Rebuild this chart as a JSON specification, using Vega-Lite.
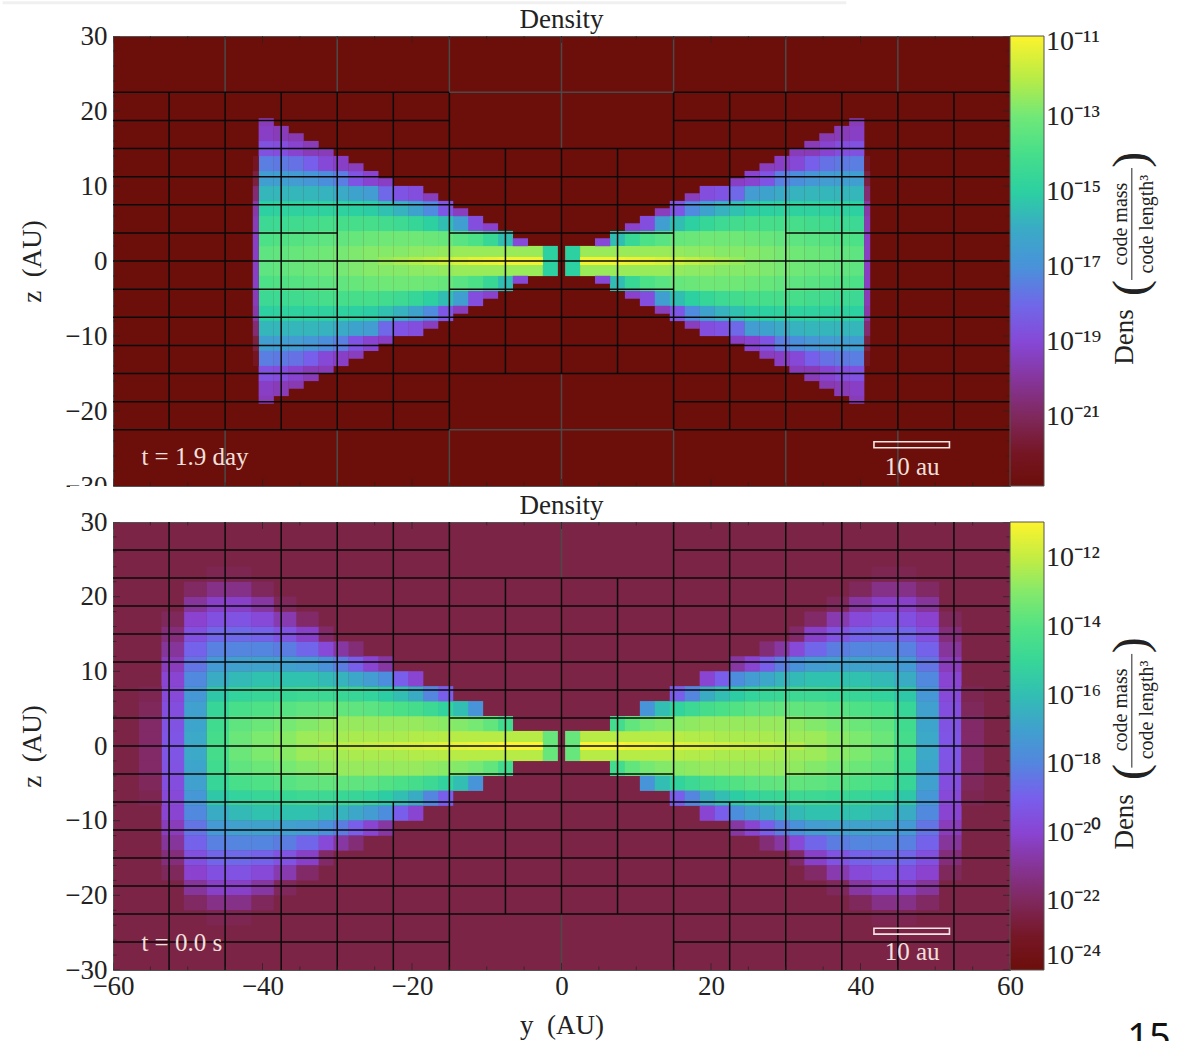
{"$schema":"https://vega.github.io/schema/vega-lite/v6.json","padding":0,"background":"white","bounds":"flush","spacing":36,
"config":{"font":"Liberation Serif","axis":{"grid":false,"ticks":false,"domain":false,"labelFontSize":27,"titleFontSize":27,"titleFontWeight":"normal","labelColor":"#222","titleColor":"#222","labelOverlap":false,"labelBound":false,"labelFlush":false},"legend":{"padding":0,"labelOffset":8,"gradientStrokeColor":"#555","gradientStrokeWidth":1,"labelFontSize":28,"labelColor":"#222"}},
"datasets":{
"xt":[{"v":-60,"m":1},{"v":-55,"m":0},{"v":-50,"m":0},{"v":-45,"m":0},{"v":-40,"m":1},{"v":-35,"m":0},{"v":-30,"m":0},{"v":-25,"m":0},{"v":-20,"m":1},{"v":-15,"m":0},{"v":-10,"m":0},{"v":-5,"m":0},{"v":0,"m":1},{"v":5,"m":0},{"v":10,"m":0},{"v":15,"m":0},{"v":20,"m":1},{"v":25,"m":0},{"v":30,"m":0},{"v":35,"m":0},{"v":40,"m":1},{"v":45,"m":0},{"v":50,"m":0},{"v":55,"m":0},{"v":60,"m":1}],
"zt":[{"v":-30,"m":1},{"v":-28,"m":0},{"v":-26,"m":0},{"v":-24,"m":0},{"v":-22,"m":0},{"v":-20,"m":1},{"v":-18,"m":0},{"v":-16,"m":0},{"v":-14,"m":0},{"v":-12,"m":0},{"v":-10,"m":1},{"v":-8,"m":0},{"v":-6,"m":0},{"v":-4,"m":0},{"v":-2,"m":0},{"v":0,"m":1},{"v":2,"m":0},{"v":4,"m":0},{"v":6,"m":0},{"v":8,"m":0},{"v":10,"m":1},{"v":12,"m":0},{"v":14,"m":0},{"v":16,"m":0},{"v":18,"m":0},{"v":20,"m":1},{"v":22,"m":0},{"v":24,"m":0},{"v":26,"m":0},{"v":28,"m":0},{"v":30,"m":1}],
"gt":[{"a":-52.5,"b":-52.5,"c":-22.5,"e":22.5,"k":"b"},{"a":52.5,"b":52.5,"c":-22.5,"e":22.5,"k":"b"},{"a":-37.5,"b":-37.5,"c":-22.5,"e":22.5,"k":"b"},{"a":37.5,"b":37.5,"c":-22.5,"e":22.5,"k":"b"},
{"a":-45,"b":-45,"c":-22.5,"e":22.5,"k":"b"},{"a":45,"b":45,"c":-22.5,"e":22.5,"k":"b"},{"a":-30,"b":-30,"c":-22.5,"e":22.5,"k":"b"},{"a":30,"b":30,"c":-22.5,"e":22.5,"k":"b"},{"a":-15,"b":-15,"c":-22.5,"e":22.5,"k":"b"},{"a":15,"b":15,"c":-22.5,"e":22.5,"k":"b"},
{"a":-45,"b":-45,"c":22.5,"e":30,"k":"g"},{"a":45,"b":45,"c":22.5,"e":30,"k":"g"},{"a":-30,"b":-30,"c":22.5,"e":30,"k":"g"},{"a":30,"b":30,"c":22.5,"e":30,"k":"g"},{"a":-15,"b":-15,"c":22.5,"e":30,"k":"g"},{"a":15,"b":15,"c":22.5,"e":30,"k":"g"},
{"a":-45,"b":-45,"c":-30,"e":-22.5,"k":"g"},{"a":45,"b":45,"c":-30,"e":-22.5,"k":"g"},{"a":-30,"b":-30,"c":-30,"e":-22.5,"k":"g"},{"a":30,"b":30,"c":-30,"e":-22.5,"k":"g"},{"a":-15,"b":-15,"c":-30,"e":-22.5,"k":"g"},{"a":15,"b":15,"c":-30,"e":-22.5,"k":"g"},
{"a":-22.5,"b":-22.5,"c":7.5,"e":22.5,"k":"b"},{"a":22.5,"b":22.5,"c":7.5,"e":22.5,"k":"b"},{"a":-22.5,"b":-22.5,"c":-22.5,"e":-7.5,"k":"b"},{"a":22.5,"b":22.5,"c":-22.5,"e":-7.5,"k":"b"},
{"a":-7.5,"b":-7.5,"c":-15,"e":15,"k":"b"},{"a":7.5,"b":7.5,"c":-15,"e":15,"k":"b"},{"a":0,"b":0,"c":-15,"e":15,"k":"b"},{"a":0,"b":0,"c":15,"e":30,"k":"g"},{"a":0,"b":0,"c":-30,"e":-15,"k":"g"},
{"a":-60,"b":-15,"c":22.5,"e":22.5,"k":"b"},{"a":-15,"b":15,"c":22.5,"e":22.5,"k":"g"},{"a":15,"b":60,"c":22.5,"e":22.5,"k":"b"},{"a":-60,"b":-15,"c":-22.5,"e":-22.5,"k":"b"},{"a":-15,"b":15,"c":-22.5,"e":-22.5,"k":"g"},{"a":15,"b":60,"c":-22.5,"e":-22.5,"k":"b"},
{"a":-60,"b":-15,"c":18.75,"e":18.75,"k":"b"},{"a":15,"b":60,"c":18.75,"e":18.75,"k":"b"},{"a":-60,"b":-15,"c":-18.75,"e":-18.75,"k":"b"},{"a":15,"b":60,"c":-18.75,"e":-18.75,"k":"b"},
{"a":-60,"b":60,"c":15,"e":15,"k":"b"},{"a":-60,"b":60,"c":-15,"e":-15,"k":"b"},{"a":-60,"b":60,"c":11.25,"e":11.25,"k":"b"},{"a":-60,"b":60,"c":-11.25,"e":-11.25,"k":"b"},{"a":-60,"b":60,"c":7.5,"e":7.5,"k":"b"},{"a":-60,"b":60,"c":-7.5,"e":-7.5,"k":"b"},{"a":-60,"b":60,"c":0,"e":0,"k":"b"},
{"a":-60,"b":-30,"c":3.75,"e":3.75,"k":"b"},{"a":-15,"b":15,"c":3.75,"e":3.75,"k":"b"},{"a":30,"b":60,"c":3.75,"e":3.75,"k":"b"},{"a":-60,"b":-30,"c":-3.75,"e":-3.75,"k":"b"},{"a":-15,"b":15,"c":-3.75,"e":-3.75,"k":"b"},{"a":30,"b":60,"c":-3.75,"e":-3.75,"k":"b"}],
"gb":[{"a":-52.5,"b":-52.5,"c":-30,"e":30,"k":"b"},{"a":52.5,"b":52.5,"c":-30,"e":30,"k":"b"},{"a":-45,"b":-45,"c":-30,"e":30,"k":"b"},{"a":45,"b":45,"c":-30,"e":30,"k":"b"},{"a":-37.5,"b":-37.5,"c":-30,"e":30,"k":"b"},{"a":37.5,"b":37.5,"c":-30,"e":30,"k":"b"},{"a":-30,"b":-30,"c":-30,"e":30,"k":"b"},{"a":30,"b":30,"c":-30,"e":30,"k":"b"},{"a":-15,"b":-15,"c":-30,"e":30,"k":"b"},{"a":15,"b":15,"c":-30,"e":30,"k":"b"},
{"a":-22.5,"b":-22.5,"c":7.5,"e":30,"k":"b"},{"a":22.5,"b":22.5,"c":7.5,"e":30,"k":"b"},{"a":-22.5,"b":-22.5,"c":-30,"e":-7.5,"k":"b"},{"a":22.5,"b":22.5,"c":-30,"e":-7.5,"k":"b"},
{"a":-7.5,"b":-7.5,"c":-22.5,"e":22.5,"k":"b"},{"a":7.5,"b":7.5,"c":-22.5,"e":22.5,"k":"b"},{"a":0,"b":0,"c":-22.5,"e":22.5,"k":"b"},{"a":0,"b":0,"c":22.5,"e":30,"k":"g"},{"a":0,"b":0,"c":-30,"e":-22.5,"k":"g"},
{"a":-60,"b":-15,"c":26.25,"e":26.25,"k":"b"},{"a":15,"b":60,"c":26.25,"e":26.25,"k":"b"},{"a":-60,"b":-15,"c":-26.25,"e":-26.25,"k":"b"},{"a":15,"b":60,"c":-26.25,"e":-26.25,"k":"b"},
{"a":-60,"b":60,"c":22.5,"e":22.5,"k":"b"},{"a":-60,"b":60,"c":-22.5,"e":-22.5,"k":"b"},{"a":-60,"b":60,"c":18.75,"e":18.75,"k":"b"},{"a":-60,"b":60,"c":-18.75,"e":-18.75,"k":"b"},{"a":-60,"b":60,"c":15,"e":15,"k":"b"},{"a":-60,"b":60,"c":-15,"e":-15,"k":"b"},{"a":-60,"b":60,"c":11.25,"e":11.25,"k":"b"},{"a":-60,"b":60,"c":-11.25,"e":-11.25,"k":"b"},{"a":-60,"b":60,"c":7.5,"e":7.5,"k":"b"},{"a":-60,"b":60,"c":-7.5,"e":-7.5,"k":"b"},{"a":-60,"b":60,"c":0,"e":0,"k":"b"},
{"a":-60,"b":-30,"c":3.75,"e":3.75,"k":"b"},{"a":-15,"b":15,"c":3.75,"e":3.75,"k":"b"},{"a":30,"b":60,"c":3.75,"e":3.75,"k":"b"},{"a":-60,"b":-30,"c":-3.75,"e":-3.75,"k":"b"},{"a":-15,"b":15,"c":-3.75,"e":-3.75,"k":"b"},{"a":30,"b":60,"c":-3.75,"e":-3.75,"k":"b"}],
"ct":[
{"y":1.5,"z":1,"d":-15},{"y":1.5,"z":-1,"d":-15},{"y":-1.5,"z":1,"d":-15},{"y":-1.5,"z":-1,"d":-15},
{"y":3.5,"z":1,"d":-12.4},{"y":3.5,"z":-1,"d":-12.4},{"y":-3.5,"z":1,"d":-12.4},{"y":-3.5,"z":-1,"d":-12.4},
{"y":5.5,"z":1,"d":-12.4},{"y":5.5,"z":-1,"d":-12.4},{"y":-5.5,"z":1,"d":-12.4},{"y":-5.5,"z":-1,"d":-12.4},
{"y":7.5,"z":1,"d":-12.4},{"y":7.5,"z":-1,"d":-12.4},{"y":-7.5,"z":1,"d":-12.4},{"y":-7.5,"z":-1,"d":-12.4},{"y":7.5,"z":3,"d":-15.5},{"y":7.5,"z":-3,"d":-15.5},{"y":-7.5,"z":3,"d":-15.5},{"y":-7.5,"z":-3,"d":-15.5},
{"y":9.5,"z":1,"d":-12.4},{"y":9.5,"z":-1,"d":-12.4},{"y":-9.5,"z":1,"d":-12.4},{"y":-9.5,"z":-1,"d":-12.4},{"y":9.5,"z":3,"d":-14.5},{"y":9.5,"z":-3,"d":-14.5},{"y":-9.5,"z":3,"d":-14.5},{"y":-9.5,"z":-3,"d":-14.5},
{"y":11.5,"z":1,"d":-12.4},{"y":11.5,"z":-1,"d":-12.4},{"y":-11.5,"z":1,"d":-12.4},{"y":-11.5,"z":-1,"d":-12.4},{"y":11.5,"z":3,"d":-13.8},{"y":11.5,"z":-3,"d":-13.8},{"y":-11.5,"z":3,"d":-13.8},{"y":-11.5,"z":-3,"d":-13.8},{"y":11.5,"z":5,"d":-18.8},{"y":11.5,"z":-5,"d":-18.8},{"y":-11.5,"z":5,"d":-18.8},{"y":-11.5,"z":-5,"d":-18.8},
{"y":13.5,"z":1,"d":-12.4},{"y":13.5,"z":-1,"d":-12.4},{"y":-13.5,"z":1,"d":-12.4},{"y":-13.5,"z":-1,"d":-12.4},{"y":13.5,"z":3,"d":-13.5},{"y":13.5,"z":-3,"d":-13.5},{"y":-13.5,"z":3,"d":-13.5},{"y":-13.5,"z":-3,"d":-13.5},{"y":13.5,"z":5,"d":-16.5},{"y":13.5,"z":-5,"d":-16.5},{"y":-13.5,"z":5,"d":-16.5},{"y":-13.5,"z":-5,"d":-16.5},
{"y":15.5,"z":1,"d":-12.5},{"y":15.5,"z":-1,"d":-12.5},{"y":-15.5,"z":1,"d":-12.5},{"y":-15.5,"z":-1,"d":-12.5},{"y":15.5,"z":3,"d":-13.2},{"y":15.5,"z":-3,"d":-13.2},{"y":-15.5,"z":3,"d":-13.2},{"y":-15.5,"z":-3,"d":-13.2},{"y":15.5,"z":5,"d":-15.5},{"y":15.5,"z":-5,"d":-15.5},{"y":-15.5,"z":5,"d":-15.5},{"y":-15.5,"z":-5,"d":-15.5},{"y":15.5,"z":7,"d":-18.5},{"y":15.5,"z":-7,"d":-18.5},{"y":-15.5,"z":7,"d":-18.5},{"y":-15.5,"z":-7,"d":-18.5},
{"y":17.5,"z":1,"d":-12.6},{"y":17.5,"z":-1,"d":-12.6},{"y":-17.5,"z":1,"d":-12.6},{"y":-17.5,"z":-1,"d":-12.6},{"y":17.5,"z":3,"d":-13.1},{"y":17.5,"z":-3,"d":-13.1},{"y":-17.5,"z":3,"d":-13.1},{"y":-17.5,"z":-3,"d":-13.1},{"y":17.5,"z":5,"d":-15},{"y":17.5,"z":-5,"d":-15},{"y":-17.5,"z":5,"d":-15},{"y":-17.5,"z":-5,"d":-15},{"y":17.5,"z":7,"d":-17.2},{"y":17.5,"z":-7,"d":-17.2},{"y":-17.5,"z":7,"d":-17.2},{"y":-17.5,"z":-7,"d":-17.2},
{"y":19.5,"z":1,"d":-12.6},{"y":19.5,"z":-1,"d":-12.6},{"y":-19.5,"z":1,"d":-12.6},{"y":-19.5,"z":-1,"d":-12.6},{"y":19.5,"z":3,"d":-13},{"y":19.5,"z":-3,"d":-13},{"y":-19.5,"z":3,"d":-13},{"y":-19.5,"z":-3,"d":-13},{"y":19.5,"z":5,"d":-14.6},{"y":19.5,"z":-5,"d":-14.6},{"y":-19.5,"z":5,"d":-14.6},{"y":-19.5,"z":-5,"d":-14.6},{"y":19.5,"z":7,"d":-16.3},{"y":19.5,"z":-7,"d":-16.3},{"y":-19.5,"z":7,"d":-16.3},{"y":-19.5,"z":-7,"d":-16.3},{"y":19.5,"z":9,"d":-18.8},{"y":19.5,"z":-9,"d":-18.8},{"y":-19.5,"z":9,"d":-18.8},{"y":-19.5,"z":-9,"d":-18.8},
{"y":21.5,"z":1,"d":-12.7},{"y":21.5,"z":-1,"d":-12.7},{"y":-21.5,"z":1,"d":-12.7},{"y":-21.5,"z":-1,"d":-12.7},{"y":21.5,"z":3,"d":-13},{"y":21.5,"z":-3,"d":-13},{"y":-21.5,"z":3,"d":-13},{"y":-21.5,"z":-3,"d":-13},{"y":21.5,"z":5,"d":-14.3},{"y":21.5,"z":-5,"d":-14.3},{"y":-21.5,"z":5,"d":-14.3},{"y":-21.5,"z":-5,"d":-14.3},{"y":21.5,"z":7,"d":-15.8},{"y":21.5,"z":-7,"d":-15.8},{"y":-21.5,"z":7,"d":-15.8},{"y":-21.5,"z":-7,"d":-15.8},{"y":21.5,"z":9,"d":-18.6},{"y":21.5,"z":-9,"d":-18.6},{"y":-21.5,"z":9,"d":-18.6},{"y":-21.5,"z":-9,"d":-18.6},
{"y":23.5,"z":1,"d":-12.7},{"y":23.5,"z":-1,"d":-12.7},{"y":-23.5,"z":1,"d":-12.7},{"y":-23.5,"z":-1,"d":-12.7},{"y":23.5,"z":3,"d":-13},{"y":23.5,"z":-3,"d":-13},{"y":-23.5,"z":3,"d":-13},{"y":-23.5,"z":-3,"d":-13},{"y":23.5,"z":5,"d":-14.1},{"y":23.5,"z":-5,"d":-14.1},{"y":-23.5,"z":5,"d":-14.1},{"y":-23.5,"z":-5,"d":-14.1},{"y":23.5,"z":7,"d":-15.4},{"y":23.5,"z":-7,"d":-15.4},{"y":-23.5,"z":7,"d":-15.4},{"y":-23.5,"z":-7,"d":-15.4},{"y":23.5,"z":9,"d":-18},{"y":23.5,"z":-9,"d":-18},{"y":-23.5,"z":9,"d":-18},{"y":-23.5,"z":-9,"d":-18},
{"y":25.5,"z":1,"d":-12.7},{"y":25.5,"z":-1,"d":-12.7},{"y":-25.5,"z":1,"d":-12.7},{"y":-25.5,"z":-1,"d":-12.7},{"y":25.5,"z":3,"d":-13.1},{"y":25.5,"z":-3,"d":-13.1},{"y":-25.5,"z":3,"d":-13.1},{"y":-25.5,"z":-3,"d":-13.1},{"y":25.5,"z":5,"d":-14},{"y":25.5,"z":-5,"d":-14},{"y":-25.5,"z":5,"d":-14},{"y":-25.5,"z":-5,"d":-14},{"y":25.5,"z":7,"d":-15.1},{"y":25.5,"z":-7,"d":-15.1},{"y":-25.5,"z":7,"d":-15.1},{"y":-25.5,"z":-7,"d":-15.1},{"y":25.5,"z":9,"d":-16.6},{"y":25.5,"z":-9,"d":-16.6},{"y":-25.5,"z":9,"d":-16.6},{"y":-25.5,"z":-9,"d":-16.6},{"y":25.5,"z":11,"d":-19.2},{"y":25.5,"z":-11,"d":-19.2},{"y":-25.5,"z":11,"d":-19.2},{"y":-25.5,"z":-11,"d":-19.2},
{"y":27.5,"z":1,"d":-12.8},{"y":27.5,"z":-1,"d":-12.8},{"y":-27.5,"z":1,"d":-12.8},{"y":-27.5,"z":-1,"d":-12.8},{"y":27.5,"z":3,"d":-13.2},{"y":27.5,"z":-3,"d":-13.2},{"y":-27.5,"z":3,"d":-13.2},{"y":-27.5,"z":-3,"d":-13.2},{"y":27.5,"z":5,"d":-14},{"y":27.5,"z":-5,"d":-14},{"y":-27.5,"z":5,"d":-14},{"y":-27.5,"z":-5,"d":-14},{"y":27.5,"z":7,"d":-15},{"y":27.5,"z":-7,"d":-15},{"y":-27.5,"z":7,"d":-15},{"y":-27.5,"z":-7,"d":-15},{"y":27.5,"z":9,"d":-16.3},{"y":27.5,"z":-9,"d":-16.3},{"y":-27.5,"z":9,"d":-16.3},{"y":-27.5,"z":-9,"d":-16.3},{"y":27.5,"z":11,"d":-18.6},{"y":27.5,"z":-11,"d":-18.6},{"y":-27.5,"z":11,"d":-18.6},{"y":-27.5,"z":-11,"d":-18.6},
{"y":29.5,"z":1,"d":-12.9},{"y":29.5,"z":-1,"d":-12.9},{"y":-29.5,"z":1,"d":-12.9},{"y":-29.5,"z":-1,"d":-12.9},{"y":29.5,"z":3,"d":-13.3},{"y":29.5,"z":-3,"d":-13.3},{"y":-29.5,"z":3,"d":-13.3},{"y":-29.5,"z":-3,"d":-13.3},{"y":29.5,"z":5,"d":-14},{"y":29.5,"z":-5,"d":-14},{"y":-29.5,"z":5,"d":-14},{"y":-29.5,"z":-5,"d":-14},{"y":29.5,"z":7,"d":-14.9},{"y":29.5,"z":-7,"d":-14.9},{"y":-29.5,"z":7,"d":-14.9},{"y":-29.5,"z":-7,"d":-14.9},{"y":29.5,"z":9,"d":-16},{"y":29.5,"z":-9,"d":-16},{"y":-29.5,"z":9,"d":-16},{"y":-29.5,"z":-9,"d":-16},{"y":29.5,"z":11,"d":-17.5},{"y":29.5,"z":-11,"d":-17.5},{"y":-29.5,"z":11,"d":-17.5},{"y":-29.5,"z":-11,"d":-17.5},{"y":29.5,"z":13,"d":-19.4},{"y":29.5,"z":-13,"d":-19.4},{"y":-29.5,"z":13,"d":-19.4},{"y":-29.5,"z":-13,"d":-19.4},
{"y":31.5,"z":1,"d":-13},{"y":31.5,"z":-1,"d":-13},{"y":-31.5,"z":1,"d":-13},{"y":-31.5,"z":-1,"d":-13},{"y":31.5,"z":3,"d":-13.4},{"y":31.5,"z":-3,"d":-13.4},{"y":-31.5,"z":3,"d":-13.4},{"y":-31.5,"z":-3,"d":-13.4},{"y":31.5,"z":5,"d":-14},{"y":31.5,"z":-5,"d":-14},{"y":-31.5,"z":5,"d":-14},{"y":-31.5,"z":-5,"d":-14},{"y":31.5,"z":7,"d":-14.9},{"y":31.5,"z":-7,"d":-14.9},{"y":-31.5,"z":7,"d":-14.9},{"y":-31.5,"z":-7,"d":-14.9},{"y":31.5,"z":9,"d":-15.8},{"y":31.5,"z":-9,"d":-15.8},{"y":-31.5,"z":9,"d":-15.8},{"y":-31.5,"z":-9,"d":-15.8},{"y":31.5,"z":11,"d":-17.1},{"y":31.5,"z":-11,"d":-17.1},{"y":-31.5,"z":11,"d":-17.1},{"y":-31.5,"z":-11,"d":-17.1},{"y":31.5,"z":13,"d":-19},{"y":31.5,"z":-13,"d":-19},{"y":-31.5,"z":13,"d":-19},{"y":-31.5,"z":-13,"d":-19},
{"y":33.5,"z":1,"d":-13.1},{"y":33.5,"z":-1,"d":-13.1},{"y":-33.5,"z":1,"d":-13.1},{"y":-33.5,"z":-1,"d":-13.1},{"y":33.5,"z":3,"d":-13.5},{"y":33.5,"z":-3,"d":-13.5},{"y":-33.5,"z":3,"d":-13.5},{"y":-33.5,"z":-3,"d":-13.5},{"y":33.5,"z":5,"d":-14.1},{"y":33.5,"z":-5,"d":-14.1},{"y":-33.5,"z":5,"d":-14.1},{"y":-33.5,"z":-5,"d":-14.1},{"y":33.5,"z":7,"d":-14.9},{"y":33.5,"z":-7,"d":-14.9},{"y":-33.5,"z":7,"d":-14.9},{"y":-33.5,"z":-7,"d":-14.9},{"y":33.5,"z":9,"d":-15.7},{"y":33.5,"z":-9,"d":-15.7},{"y":-33.5,"z":9,"d":-15.7},{"y":-33.5,"z":-9,"d":-15.7},{"y":33.5,"z":11,"d":-16.8},{"y":33.5,"z":-11,"d":-16.8},{"y":-33.5,"z":11,"d":-16.8},{"y":-33.5,"z":-11,"d":-16.8},{"y":33.5,"z":13,"d":-18.2},{"y":33.5,"z":-13,"d":-18.2},{"y":-33.5,"z":13,"d":-18.2},{"y":-33.5,"z":-13,"d":-18.2},{"y":33.5,"z":15,"d":-19.6},{"y":33.5,"z":-15,"d":-19.6},{"y":-33.5,"z":15,"d":-19.6},{"y":-33.5,"z":-15,"d":-19.6},
{"y":35.5,"z":1,"d":-13.2},{"y":35.5,"z":-1,"d":-13.2},{"y":-35.5,"z":1,"d":-13.2},{"y":-35.5,"z":-1,"d":-13.2},{"y":35.5,"z":3,"d":-13.6},{"y":35.5,"z":-3,"d":-13.6},{"y":-35.5,"z":3,"d":-13.6},{"y":-35.5,"z":-3,"d":-13.6},{"y":35.5,"z":5,"d":-14.2},{"y":35.5,"z":-5,"d":-14.2},{"y":-35.5,"z":5,"d":-14.2},{"y":-35.5,"z":-5,"d":-14.2},{"y":35.5,"z":7,"d":-14.9},{"y":35.5,"z":-7,"d":-14.9},{"y":-35.5,"z":7,"d":-14.9},{"y":-35.5,"z":-7,"d":-14.9},{"y":35.5,"z":9,"d":-15.7},{"y":35.5,"z":-9,"d":-15.7},{"y":-35.5,"z":9,"d":-15.7},{"y":-35.5,"z":-9,"d":-15.7},{"y":35.5,"z":11,"d":-16.6},{"y":35.5,"z":-11,"d":-16.6},{"y":-35.5,"z":11,"d":-16.6},{"y":-35.5,"z":-11,"d":-16.6},{"y":35.5,"z":13,"d":-17.8},{"y":35.5,"z":-13,"d":-17.8},{"y":-35.5,"z":13,"d":-17.8},{"y":-35.5,"z":-13,"d":-17.8},{"y":35.5,"z":15,"d":-19.2},{"y":35.5,"z":-15,"d":-19.2},{"y":-35.5,"z":15,"d":-19.2},{"y":-35.5,"z":-15,"d":-19.2},
{"y":37.5,"z":1,"d":-13.3},{"y":37.5,"z":-1,"d":-13.3},{"y":-37.5,"z":1,"d":-13.3},{"y":-37.5,"z":-1,"d":-13.3},{"y":37.5,"z":3,"d":-13.7},{"y":37.5,"z":-3,"d":-13.7},{"y":-37.5,"z":3,"d":-13.7},{"y":-37.5,"z":-3,"d":-13.7},{"y":37.5,"z":5,"d":-14.3},{"y":37.5,"z":-5,"d":-14.3},{"y":-37.5,"z":5,"d":-14.3},{"y":-37.5,"z":-5,"d":-14.3},{"y":37.5,"z":7,"d":-14.9},{"y":37.5,"z":-7,"d":-14.9},{"y":-37.5,"z":7,"d":-14.9},{"y":-37.5,"z":-7,"d":-14.9},{"y":37.5,"z":9,"d":-15.7},{"y":37.5,"z":-9,"d":-15.7},{"y":-37.5,"z":9,"d":-15.7},{"y":-37.5,"z":-9,"d":-15.7},{"y":37.5,"z":11,"d":-16.5},{"y":37.5,"z":-11,"d":-16.5},{"y":-37.5,"z":11,"d":-16.5},{"y":-37.5,"z":-11,"d":-16.5},{"y":37.5,"z":13,"d":-17.6},{"y":37.5,"z":-13,"d":-17.6},{"y":-37.5,"z":13,"d":-17.6},{"y":-37.5,"z":-13,"d":-17.6},{"y":37.5,"z":15,"d":-18.8},{"y":37.5,"z":-15,"d":-18.8},{"y":-37.5,"z":15,"d":-18.8},{"y":-37.5,"z":-15,"d":-18.8},{"y":37.5,"z":17,"d":-19.6},{"y":37.5,"z":-17,"d":-19.6},{"y":-37.5,"z":17,"d":-19.6},{"y":-37.5,"z":-17,"d":-19.6},
{"y":39.5,"z":1,"d":-13.4},{"y":39.5,"z":-1,"d":-13.4},{"y":-39.5,"z":1,"d":-13.4},{"y":-39.5,"z":-1,"d":-13.4},{"y":39.5,"z":3,"d":-13.8},{"y":39.5,"z":-3,"d":-13.8},{"y":-39.5,"z":3,"d":-13.8},{"y":-39.5,"z":-3,"d":-13.8},{"y":39.5,"z":5,"d":-14.4},{"y":39.5,"z":-5,"d":-14.4},{"y":-39.5,"z":5,"d":-14.4},{"y":-39.5,"z":-5,"d":-14.4},{"y":39.5,"z":7,"d":-15},{"y":39.5,"z":-7,"d":-15},{"y":-39.5,"z":7,"d":-15},{"y":-39.5,"z":-7,"d":-15},{"y":39.5,"z":9,"d":-15.7},{"y":39.5,"z":-9,"d":-15.7},{"y":-39.5,"z":9,"d":-15.7},{"y":-39.5,"z":-9,"d":-15.7},{"y":39.5,"z":11,"d":-16.5},{"y":39.5,"z":-11,"d":-16.5},{"y":-39.5,"z":11,"d":-16.5},{"y":-39.5,"z":-11,"d":-16.5},{"y":39.5,"z":13,"d":-17.5},{"y":39.5,"z":-13,"d":-17.5},{"y":-39.5,"z":13,"d":-17.5},{"y":-39.5,"z":-13,"d":-17.5},{"y":39.5,"z":15,"d":-18.7},{"y":39.5,"z":-15,"d":-18.7},{"y":-39.5,"z":15,"d":-18.7},{"y":-39.5,"z":-15,"d":-18.7},{"y":39.5,"z":17,"d":-19.4},{"y":39.5,"z":-17,"d":-19.4},{"y":-39.5,"z":17,"d":-19.4},{"y":-39.5,"z":-17,"d":-19.4}],
"mt":[{"y":3.5,"z":0,"d":-11},{"y":-3.5,"z":0,"d":-11},{"y":5.5,"z":0,"d":-11},{"y":-5.5,"z":0,"d":-11},{"y":7.5,"z":0,"d":-11},{"y":-7.5,"z":0,"d":-11},{"y":9.5,"z":0,"d":-11.1},{"y":-9.5,"z":0,"d":-11.1},{"y":11.5,"z":0,"d":-11.2},{"y":-11.5,"z":0,"d":-11.2},{"y":13.5,"z":0,"d":-11.4},{"y":-13.5,"z":0,"d":-11.4},{"y":15.5,"z":0,"d":-11.6},{"y":-15.5,"z":0,"d":-11.6},{"y":17.5,"z":0,"d":-11.8},{"y":-17.5,"z":0,"d":-11.8},{"y":19.5,"z":0,"d":-12},{"y":-19.5,"z":0,"d":-12},{"y":21.5,"z":0,"d":-12.2},{"y":-21.5,"z":0,"d":-12.2},{"y":23.5,"z":0,"d":-12.4},{"y":-23.5,"z":0,"d":-12.4},
{"y":5.5,"z":2.5,"d":-19},{"y":5.5,"z":-2.5,"d":-19},{"y":-5.5,"z":2.5,"d":-19},{"y":-5.5,"z":-2.5,"d":-19},{"y":9.5,"z":4.5,"d":-19.3},{"y":9.5,"z":-4.5,"d":-19.3},{"y":-9.5,"z":4.5,"d":-19.3},{"y":-9.5,"z":-4.5,"d":-19.3},{"y":13.5,"z":6.5,"d":-19.5},{"y":13.5,"z":-6.5,"d":-19.5},{"y":-13.5,"z":6.5,"d":-19.5},{"y":-13.5,"z":-6.5,"d":-19.5},{"y":17.5,"z":8.5,"d":-19.5},{"y":17.5,"z":-8.5,"d":-19.5},{"y":-17.5,"z":8.5,"d":-19.5},{"y":-17.5,"z":-8.5,"d":-19.5},{"y":23.5,"z":10.5,"d":-19.4},{"y":23.5,"z":-10.5,"d":-19.4},{"y":-23.5,"z":10.5,"d":-19.4},{"y":-23.5,"z":-10.5,"d":-19.4},{"y":27.5,"z":12.5,"d":-19.5},{"y":27.5,"z":-12.5,"d":-19.5},{"y":-27.5,"z":12.5,"d":-19.5},{"y":-27.5,"z":-12.5,"d":-19.5},{"y":31.5,"z":14.5,"d":-19.6},{"y":31.5,"z":-14.5,"d":-19.6},{"y":-31.5,"z":14.5,"d":-19.6},{"y":-31.5,"z":-14.5,"d":-19.6},{"y":35.5,"z":16.5,"d":-19.7},{"y":35.5,"z":-16.5,"d":-19.7},{"y":-35.5,"z":16.5,"d":-19.7},{"y":-35.5,"z":-16.5,"d":-19.7},{"y":39.5,"z":18.5,"d":-19.6},{"y":39.5,"z":-18.5,"d":-19.6},{"y":-39.5,"z":18.5,"d":-19.6},{"y":-39.5,"z":-18.5,"d":-19.6}],
"st":[{"y":40.9,"z":1,"d":-19.4},{"y":40.9,"z":-1,"d":-19.4},{"y":-40.9,"z":1,"d":-19.4},{"y":-40.9,"z":-1,"d":-19.4},{"y":40.9,"z":3,"d":-19.4},{"y":40.9,"z":-3,"d":-19.4},{"y":-40.9,"z":3,"d":-19.4},{"y":-40.9,"z":-3,"d":-19.4},{"y":40.9,"z":5,"d":-19.6},{"y":40.9,"z":-5,"d":-19.6},{"y":-40.9,"z":5,"d":-19.6},{"y":-40.9,"z":-5,"d":-19.6},{"y":40.9,"z":7,"d":-19.8},{"y":40.9,"z":-7,"d":-19.8},{"y":-40.9,"z":7,"d":-19.8},{"y":-40.9,"z":-7,"d":-19.8},{"y":40.9,"z":9,"d":-20.6},{"y":40.9,"z":-9,"d":-20.6},{"y":-40.9,"z":9,"d":-20.6},{"y":-40.9,"z":-9,"d":-20.6},{"y":40.9,"z":11,"d":-21.5},{"y":40.9,"z":-11,"d":-21.5},{"y":-40.9,"z":11,"d":-21.5},{"y":-40.9,"z":-11,"d":-21.5},{"y":40.9,"z":13,"d":-22},{"y":40.9,"z":-13,"d":-22},{"y":-40.9,"z":13,"d":-22},{"y":-40.9,"z":-13,"d":-22}],
"cb":[
{"y":1.5,"z":1,"d":-13.5},{"y":1.5,"z":-1,"d":-13.5},{"y":-1.5,"z":1,"d":-13.5},{"y":-1.5,"z":-1,"d":-13.5},
{"y":3.5,"z":1,"d":-12.2},{"y":3.5,"z":-1,"d":-12.2},{"y":-3.5,"z":1,"d":-12.2},{"y":-3.5,"z":-1,"d":-12.2},
{"y":5.5,"z":1,"d":-12.2},{"y":5.5,"z":-1,"d":-12.2},{"y":-5.5,"z":1,"d":-12.2},{"y":-5.5,"z":-1,"d":-12.2},
{"y":7.5,"z":1,"d":-12.2},{"y":7.5,"z":-1,"d":-12.2},{"y":-7.5,"z":1,"d":-12.2},{"y":-7.5,"z":-1,"d":-12.2},{"y":7.5,"z":3,"d":-14.5},{"y":7.5,"z":-3,"d":-14.5},{"y":-7.5,"z":3,"d":-14.5},{"y":-7.5,"z":-3,"d":-14.5},
{"y":9.5,"z":1,"d":-12.2},{"y":9.5,"z":-1,"d":-12.2},{"y":-9.5,"z":1,"d":-12.2},{"y":-9.5,"z":-1,"d":-12.2},{"y":9.5,"z":3,"d":-13.6},{"y":9.5,"z":-3,"d":-13.6},{"y":-9.5,"z":3,"d":-13.6},{"y":-9.5,"z":-3,"d":-13.6},
{"y":11.5,"z":1,"d":-12.2},{"y":11.5,"z":-1,"d":-12.2},{"y":-11.5,"z":1,"d":-12.2},{"y":-11.5,"z":-1,"d":-12.2},{"y":11.5,"z":3,"d":-13.2},{"y":11.5,"z":-3,"d":-13.2},{"y":-11.5,"z":3,"d":-13.2},{"y":-11.5,"z":-3,"d":-13.2},{"y":11.5,"z":5,"d":-17.5},{"y":11.5,"z":-5,"d":-17.5},{"y":-11.5,"z":5,"d":-17.5},{"y":-11.5,"z":-5,"d":-17.5},
{"y":13.5,"z":1,"d":-12.2},{"y":13.5,"z":-1,"d":-12.2},{"y":-13.5,"z":1,"d":-12.2},{"y":-13.5,"z":-1,"d":-12.2},{"y":13.5,"z":3,"d":-13},{"y":13.5,"z":-3,"d":-13},{"y":-13.5,"z":3,"d":-13},{"y":-13.5,"z":-3,"d":-13},{"y":13.5,"z":5,"d":-16},{"y":13.5,"z":-5,"d":-16},{"y":-13.5,"z":5,"d":-16},{"y":-13.5,"z":-5,"d":-16},
{"y":15.5,"z":1,"d":-12.2},{"y":15.5,"z":-1,"d":-12.2},{"y":-15.5,"z":1,"d":-12.2},{"y":-15.5,"z":-1,"d":-12.2},{"y":15.5,"z":3,"d":-12.9},{"y":15.5,"z":-3,"d":-12.9},{"y":-15.5,"z":3,"d":-12.9},{"y":-15.5,"z":-3,"d":-12.9},{"y":15.5,"z":5,"d":-15.2},{"y":15.5,"z":-5,"d":-15.2},{"y":-15.5,"z":5,"d":-15.2},{"y":-15.5,"z":-5,"d":-15.2},{"y":15.5,"z":7,"d":-19},{"y":15.5,"z":-7,"d":-19},{"y":-15.5,"z":7,"d":-19},{"y":-15.5,"z":-7,"d":-19},
{"y":17.5,"z":1,"d":-12.3},{"y":17.5,"z":-1,"d":-12.3},{"y":-17.5,"z":1,"d":-12.3},{"y":-17.5,"z":-1,"d":-12.3},{"y":17.5,"z":3,"d":-12.8},{"y":17.5,"z":-3,"d":-12.8},{"y":-17.5,"z":3,"d":-12.8},{"y":-17.5,"z":-3,"d":-12.8},{"y":17.5,"z":5,"d":-14.8},{"y":17.5,"z":-5,"d":-14.8},{"y":-17.5,"z":5,"d":-14.8},{"y":-17.5,"z":-5,"d":-14.8},{"y":17.5,"z":7,"d":-18},{"y":17.5,"z":-7,"d":-18},{"y":-17.5,"z":7,"d":-18},{"y":-17.5,"z":-7,"d":-18},
{"y":19.5,"z":1,"d":-12.3},{"y":19.5,"z":-1,"d":-12.3},{"y":-19.5,"z":1,"d":-12.3},{"y":-19.5,"z":-1,"d":-12.3},{"y":19.5,"z":3,"d":-12.7},{"y":19.5,"z":-3,"d":-12.7},{"y":-19.5,"z":3,"d":-12.7},{"y":-19.5,"z":-3,"d":-12.7},{"y":19.5,"z":5,"d":-14.4},{"y":19.5,"z":-5,"d":-14.4},{"y":-19.5,"z":5,"d":-14.4},{"y":-19.5,"z":-5,"d":-14.4},{"y":19.5,"z":7,"d":-16.5},{"y":19.5,"z":-7,"d":-16.5},{"y":-19.5,"z":7,"d":-16.5},{"y":-19.5,"z":-7,"d":-16.5},{"y":19.5,"z":9,"d":-20},{"y":19.5,"z":-9,"d":-20},{"y":-19.5,"z":9,"d":-20},{"y":-19.5,"z":-9,"d":-20},
{"y":21.5,"z":1,"d":-12.4},{"y":21.5,"z":-1,"d":-12.4},{"y":-21.5,"z":1,"d":-12.4},{"y":-21.5,"z":-1,"d":-12.4},{"y":21.5,"z":3,"d":-12.7},{"y":21.5,"z":-3,"d":-12.7},{"y":-21.5,"z":3,"d":-12.7},{"y":-21.5,"z":-3,"d":-12.7},{"y":21.5,"z":5,"d":-14.2},{"y":21.5,"z":-5,"d":-14.2},{"y":-21.5,"z":5,"d":-14.2},{"y":-21.5,"z":-5,"d":-14.2},{"y":21.5,"z":7,"d":-16},{"y":21.5,"z":-7,"d":-16},{"y":-21.5,"z":7,"d":-16},{"y":-21.5,"z":-7,"d":-16},{"y":21.5,"z":9,"d":-19},{"y":21.5,"z":-9,"d":-19},{"y":-21.5,"z":9,"d":-19},{"y":-21.5,"z":-9,"d":-19},
{"y":23.5,"z":1,"d":-12.4},{"y":23.5,"z":-1,"d":-12.4},{"y":-23.5,"z":1,"d":-12.4},{"y":-23.5,"z":-1,"d":-12.4},{"y":23.5,"z":3,"d":-12.7},{"y":23.5,"z":-3,"d":-12.7},{"y":-23.5,"z":3,"d":-12.7},{"y":-23.5,"z":-3,"d":-12.7},{"y":23.5,"z":5,"d":-14},{"y":23.5,"z":-5,"d":-14},{"y":-23.5,"z":5,"d":-14},{"y":-23.5,"z":-5,"d":-14},{"y":23.5,"z":7,"d":-15.6},{"y":23.5,"z":-7,"d":-15.6},{"y":-23.5,"z":7,"d":-15.6},{"y":-23.5,"z":-7,"d":-15.6},{"y":23.5,"z":9,"d":-17.8},{"y":23.5,"z":-9,"d":-17.8},{"y":-23.5,"z":9,"d":-17.8},{"y":-23.5,"z":-9,"d":-17.8},{"y":23.5,"z":11,"d":-20.8},{"y":23.5,"z":-11,"d":-20.8},{"y":-23.5,"z":11,"d":-20.8},{"y":-23.5,"z":-11,"d":-20.8},
{"y":25.5,"z":1,"d":-12.4},{"y":25.5,"z":-1,"d":-12.4},{"y":-25.5,"z":1,"d":-12.4},{"y":-25.5,"z":-1,"d":-12.4},{"y":25.5,"z":3,"d":-12.7},{"y":25.5,"z":-3,"d":-12.7},{"y":-25.5,"z":3,"d":-12.7},{"y":-25.5,"z":-3,"d":-12.7},{"y":25.5,"z":5,"d":-13.8},{"y":25.5,"z":-5,"d":-13.8},{"y":-25.5,"z":5,"d":-13.8},{"y":-25.5,"z":-5,"d":-13.8},{"y":25.5,"z":7,"d":-15.2},{"y":25.5,"z":-7,"d":-15.2},{"y":-25.5,"z":7,"d":-15.2},{"y":-25.5,"z":-7,"d":-15.2},{"y":25.5,"z":9,"d":-17.2},{"y":25.5,"z":-9,"d":-17.2},{"y":-25.5,"z":9,"d":-17.2},{"y":-25.5,"z":-9,"d":-17.2},{"y":25.5,"z":11,"d":-20},{"y":25.5,"z":-11,"d":-20},{"y":-25.5,"z":11,"d":-20},{"y":-25.5,"z":-11,"d":-20},
{"y":27.5,"z":1,"d":-12.4},{"y":27.5,"z":-1,"d":-12.4},{"y":-27.5,"z":1,"d":-12.4},{"y":-27.5,"z":-1,"d":-12.4},{"y":27.5,"z":3,"d":-12.7},{"y":27.5,"z":-3,"d":-12.7},{"y":-27.5,"z":3,"d":-12.7},{"y":-27.5,"z":-3,"d":-12.7},{"y":27.5,"z":5,"d":-13.7},{"y":27.5,"z":-5,"d":-13.7},{"y":-27.5,"z":5,"d":-13.7},{"y":-27.5,"z":-5,"d":-13.7},{"y":27.5,"z":7,"d":-15},{"y":27.5,"z":-7,"d":-15},{"y":-27.5,"z":7,"d":-15},{"y":-27.5,"z":-7,"d":-15},{"y":27.5,"z":9,"d":-16.7},{"y":27.5,"z":-9,"d":-16.7},{"y":-27.5,"z":9,"d":-16.7},{"y":-27.5,"z":-9,"d":-16.7},{"y":27.5,"z":11,"d":-19},{"y":27.5,"z":-11,"d":-19},{"y":-27.5,"z":11,"d":-19},{"y":-27.5,"z":-11,"d":-19},{"y":27.5,"z":13,"d":-21.5},{"y":27.5,"z":-13,"d":-21.5},{"y":-27.5,"z":13,"d":-21.5},{"y":-27.5,"z":-13,"d":-21.5},
{"y":29.5,"z":1,"d":-12.5},{"y":29.5,"z":-1,"d":-12.5},{"y":-29.5,"z":1,"d":-12.5},{"y":-29.5,"z":-1,"d":-12.5},{"y":29.5,"z":3,"d":-12.7},{"y":29.5,"z":-3,"d":-12.7},{"y":-29.5,"z":3,"d":-12.7},{"y":-29.5,"z":-3,"d":-12.7},{"y":29.5,"z":5,"d":-13.6},{"y":29.5,"z":-5,"d":-13.6},{"y":-29.5,"z":5,"d":-13.6},{"y":-29.5,"z":-5,"d":-13.6},{"y":29.5,"z":7,"d":-14.9},{"y":29.5,"z":-7,"d":-14.9},{"y":-29.5,"z":7,"d":-14.9},{"y":-29.5,"z":-7,"d":-14.9},{"y":29.5,"z":9,"d":-16.3},{"y":29.5,"z":-9,"d":-16.3},{"y":-29.5,"z":9,"d":-16.3},{"y":-29.5,"z":-9,"d":-16.3},{"y":29.5,"z":11,"d":-18.2},{"y":29.5,"z":-11,"d":-18.2},{"y":-29.5,"z":11,"d":-18.2},{"y":-29.5,"z":-11,"d":-18.2},{"y":29.5,"z":13,"d":-20.8},{"y":29.5,"z":-13,"d":-20.8},{"y":-29.5,"z":13,"d":-20.8},{"y":-29.5,"z":-13,"d":-20.8},
{"y":31.5,"z":1,"d":-12.6},{"y":31.5,"z":-1,"d":-12.6},{"y":-31.5,"z":1,"d":-12.6},{"y":-31.5,"z":-1,"d":-12.6},{"y":31.5,"z":3,"d":-12.8},{"y":31.5,"z":-3,"d":-12.8},{"y":-31.5,"z":3,"d":-12.8},{"y":-31.5,"z":-3,"d":-12.8},{"y":31.5,"z":5,"d":-13.6},{"y":31.5,"z":-5,"d":-13.6},{"y":-31.5,"z":5,"d":-13.6},{"y":-31.5,"z":-5,"d":-13.6},{"y":31.5,"z":7,"d":-14.8},{"y":31.5,"z":-7,"d":-14.8},{"y":-31.5,"z":7,"d":-14.8},{"y":-31.5,"z":-7,"d":-14.8},{"y":31.5,"z":9,"d":-16.1},{"y":31.5,"z":-9,"d":-16.1},{"y":-31.5,"z":9,"d":-16.1},{"y":-31.5,"z":-9,"d":-16.1},{"y":31.5,"z":11,"d":-17.7},{"y":31.5,"z":-11,"d":-17.7},{"y":-31.5,"z":11,"d":-17.7},{"y":-31.5,"z":-11,"d":-17.7},{"y":31.5,"z":13,"d":-19.8},{"y":31.5,"z":-13,"d":-19.8},{"y":-31.5,"z":13,"d":-19.8},{"y":-31.5,"z":-13,"d":-19.8},{"y":31.5,"z":15,"d":-21.8},{"y":31.5,"z":-15,"d":-21.8},{"y":-31.5,"z":15,"d":-21.8},{"y":-31.5,"z":-15,"d":-21.8}],
"mb":[{"y":3.5,"z":0,"d":-11},{"y":-3.5,"z":0,"d":-11},{"y":5.5,"z":0,"d":-11},{"y":-5.5,"z":0,"d":-11},{"y":7.5,"z":0,"d":-11},{"y":-7.5,"z":0,"d":-11},{"y":9.5,"z":0,"d":-11.1},{"y":-9.5,"z":0,"d":-11.1},{"y":11.5,"z":0,"d":-11.2},{"y":-11.5,"z":0,"d":-11.2},{"y":13.5,"z":0,"d":-11.3},{"y":-13.5,"z":0,"d":-11.3},{"y":15.5,"z":0,"d":-11.4},{"y":-15.5,"z":0,"d":-11.4},{"y":17.5,"z":0,"d":-11.5},{"y":-17.5,"z":0,"d":-11.5},{"y":19.5,"z":0,"d":-11.6},{"y":-19.5,"z":0,"d":-11.6},{"y":21.5,"z":0,"d":-11.7},{"y":-21.5,"z":0,"d":-11.7},{"y":23.5,"z":0,"d":-11.8},{"y":-23.5,"z":0,"d":-11.8},{"y":25.5,"z":0,"d":-11.9},{"y":-25.5,"z":0,"d":-11.9},{"y":27.5,"z":0,"d":-12},{"y":-27.5,"z":0,"d":-12},{"y":29.5,"z":0,"d":-12.1},{"y":-29.5,"z":0,"d":-12.1},{"y":31.5,"z":0,"d":-12.2},{"y":-31.5,"z":0,"d":-12.2}],
"co":[
{"y":34,"z":1,"d":-12.6},{"y":34,"z":-1,"d":-12.6},{"y":-34,"z":1,"d":-12.6},{"y":-34,"z":-1,"d":-12.6},{"y":34,"z":3,"d":-13},{"y":34,"z":-3,"d":-13},{"y":-34,"z":3,"d":-13},{"y":-34,"z":-3,"d":-13},{"y":34,"z":5,"d":-13.7},{"y":34,"z":-5,"d":-13.7},{"y":-34,"z":5,"d":-13.7},{"y":-34,"z":-5,"d":-13.7},{"y":34,"z":7,"d":-14.8},{"y":34,"z":-7,"d":-14.8},{"y":-34,"z":7,"d":-14.8},{"y":-34,"z":-7,"d":-14.8},{"y":34,"z":9,"d":-15.9},{"y":34,"z":-9,"d":-15.9},{"y":-34,"z":9,"d":-15.9},{"y":-34,"z":-9,"d":-15.9},{"y":34,"z":11,"d":-17.2},{"y":34,"z":-11,"d":-17.2},{"y":-34,"z":11,"d":-17.2},{"y":-34,"z":-11,"d":-17.2},{"y":34,"z":13,"d":-18.8},{"y":34,"z":-13,"d":-18.8},{"y":-34,"z":13,"d":-18.8},{"y":-34,"z":-13,"d":-18.8},{"y":34,"z":15,"d":-20.2},{"y":34,"z":-15,"d":-20.2},{"y":-34,"z":15,"d":-20.2},{"y":-34,"z":-15,"d":-20.2},{"y":34,"z":17,"d":-21.8},{"y":34,"z":-17,"d":-21.8},{"y":-34,"z":17,"d":-21.8},{"y":-34,"z":-17,"d":-21.8},
{"y":37,"z":1,"d":-12.9},{"y":37,"z":-1,"d":-12.9},{"y":-37,"z":1,"d":-12.9},{"y":-37,"z":-1,"d":-12.9},{"y":37,"z":3,"d":-13.2},{"y":37,"z":-3,"d":-13.2},{"y":-37,"z":3,"d":-13.2},{"y":-37,"z":-3,"d":-13.2},{"y":37,"z":5,"d":-13.9},{"y":37,"z":-5,"d":-13.9},{"y":-37,"z":5,"d":-13.9},{"y":-37,"z":-5,"d":-13.9},{"y":37,"z":7,"d":-14.9},{"y":37,"z":-7,"d":-14.9},{"y":-37,"z":7,"d":-14.9},{"y":-37,"z":-7,"d":-14.9},{"y":37,"z":9,"d":-15.9},{"y":37,"z":-9,"d":-15.9},{"y":-37,"z":9,"d":-15.9},{"y":-37,"z":-9,"d":-15.9},{"y":37,"z":11,"d":-17},{"y":37,"z":-11,"d":-17},{"y":-37,"z":11,"d":-17},{"y":-37,"z":-11,"d":-17},{"y":37,"z":13,"d":-18.2},{"y":37,"z":-13,"d":-18.2},{"y":-37,"z":13,"d":-18.2},{"y":-37,"z":-13,"d":-18.2},{"y":37,"z":15,"d":-19.4},{"y":37,"z":-15,"d":-19.4},{"y":-37,"z":15,"d":-19.4},{"y":-37,"z":-15,"d":-19.4},{"y":37,"z":17,"d":-20.6},{"y":37,"z":-17,"d":-20.6},{"y":-37,"z":17,"d":-20.6},{"y":-37,"z":-17,"d":-20.6},{"y":37,"z":19,"d":-22},{"y":37,"z":-19,"d":-22},{"y":-37,"z":19,"d":-22},{"y":-37,"z":-19,"d":-22},
{"y":40,"z":1,"d":-13.1},{"y":40,"z":-1,"d":-13.1},{"y":-40,"z":1,"d":-13.1},{"y":-40,"z":-1,"d":-13.1},{"y":40,"z":3,"d":-13.4},{"y":40,"z":-3,"d":-13.4},{"y":-40,"z":3,"d":-13.4},{"y":-40,"z":-3,"d":-13.4},{"y":40,"z":5,"d":-14.1},{"y":40,"z":-5,"d":-14.1},{"y":-40,"z":5,"d":-14.1},{"y":-40,"z":-5,"d":-14.1},{"y":40,"z":7,"d":-15},{"y":40,"z":-7,"d":-15},{"y":-40,"z":7,"d":-15},{"y":-40,"z":-7,"d":-15},{"y":40,"z":9,"d":-15.9},{"y":40,"z":-9,"d":-15.9},{"y":-40,"z":9,"d":-15.9},{"y":-40,"z":-9,"d":-15.9},{"y":40,"z":11,"d":-16.9},{"y":40,"z":-11,"d":-16.9},{"y":-40,"z":11,"d":-16.9},{"y":-40,"z":-11,"d":-16.9},{"y":40,"z":13,"d":-18},{"y":40,"z":-13,"d":-18},{"y":-40,"z":13,"d":-18},{"y":-40,"z":-13,"d":-18},{"y":40,"z":15,"d":-18.9},{"y":40,"z":-15,"d":-18.9},{"y":-40,"z":15,"d":-18.9},{"y":-40,"z":-15,"d":-18.9},{"y":40,"z":17,"d":-19.8},{"y":40,"z":-17,"d":-19.8},{"y":-40,"z":17,"d":-19.8},{"y":-40,"z":-17,"d":-19.8},{"y":40,"z":19,"d":-20.8},{"y":40,"z":-19,"d":-20.8},{"y":-40,"z":19,"d":-20.8},{"y":-40,"z":-19,"d":-20.8},{"y":40,"z":21,"d":-22},{"y":40,"z":-21,"d":-22},{"y":-40,"z":21,"d":-22},{"y":-40,"z":-21,"d":-22},
{"y":43,"z":1,"d":-13.4},{"y":43,"z":-1,"d":-13.4},{"y":-43,"z":1,"d":-13.4},{"y":-43,"z":-1,"d":-13.4},{"y":43,"z":3,"d":-13.7},{"y":43,"z":-3,"d":-13.7},{"y":-43,"z":3,"d":-13.7},{"y":-43,"z":-3,"d":-13.7},{"y":43,"z":5,"d":-14.3},{"y":43,"z":-5,"d":-14.3},{"y":-43,"z":5,"d":-14.3},{"y":-43,"z":-5,"d":-14.3},{"y":43,"z":7,"d":-15.2},{"y":43,"z":-7,"d":-15.2},{"y":-43,"z":7,"d":-15.2},{"y":-43,"z":-7,"d":-15.2},{"y":43,"z":9,"d":-16.1},{"y":43,"z":-9,"d":-16.1},{"y":-43,"z":9,"d":-16.1},{"y":-43,"z":-9,"d":-16.1},{"y":43,"z":11,"d":-17},{"y":43,"z":-11,"d":-17},{"y":-43,"z":11,"d":-17},{"y":-43,"z":-11,"d":-17},{"y":43,"z":13,"d":-18},{"y":43,"z":-13,"d":-18},{"y":-43,"z":13,"d":-18},{"y":-43,"z":-13,"d":-18},{"y":43,"z":15,"d":-18.7},{"y":43,"z":-15,"d":-18.7},{"y":-43,"z":15,"d":-18.7},{"y":-43,"z":-15,"d":-18.7},{"y":43,"z":17,"d":-19.4},{"y":43,"z":-17,"d":-19.4},{"y":-43,"z":17,"d":-19.4},{"y":-43,"z":-17,"d":-19.4},{"y":43,"z":19,"d":-20.2},{"y":43,"z":-19,"d":-20.2},{"y":-43,"z":19,"d":-20.2},{"y":-43,"z":-19,"d":-20.2},{"y":43,"z":21,"d":-21.2},{"y":43,"z":-21,"d":-21.2},{"y":-43,"z":21,"d":-21.2},{"y":-43,"z":-21,"d":-21.2},{"y":43,"z":23,"d":-22.2},{"y":43,"z":-23,"d":-22.2},{"y":-43,"z":23,"d":-22.2},{"y":-43,"z":-23,"d":-22.2},
{"y":46,"z":1,"d":-14.4},{"y":46,"z":-1,"d":-14.4},{"y":-46,"z":1,"d":-14.4},{"y":-46,"z":-1,"d":-14.4},{"y":46,"z":3,"d":-14.6},{"y":46,"z":-3,"d":-14.6},{"y":-46,"z":3,"d":-14.6},{"y":-46,"z":-3,"d":-14.6},{"y":46,"z":5,"d":-15},{"y":46,"z":-5,"d":-15},{"y":-46,"z":5,"d":-15},{"y":-46,"z":-5,"d":-15},{"y":46,"z":7,"d":-15.7},{"y":46,"z":-7,"d":-15.7},{"y":-46,"z":7,"d":-15.7},{"y":-46,"z":-7,"d":-15.7},{"y":46,"z":9,"d":-16.5},{"y":46,"z":-9,"d":-16.5},{"y":-46,"z":9,"d":-16.5},{"y":-46,"z":-9,"d":-16.5},{"y":46,"z":11,"d":-17.3},{"y":46,"z":-11,"d":-17.3},{"y":-46,"z":11,"d":-17.3},{"y":-46,"z":-11,"d":-17.3},{"y":46,"z":13,"d":-18.1},{"y":46,"z":-13,"d":-18.1},{"y":-46,"z":13,"d":-18.1},{"y":-46,"z":-13,"d":-18.1},{"y":46,"z":15,"d":-18.8},{"y":46,"z":-15,"d":-18.8},{"y":-46,"z":15,"d":-18.8},{"y":-46,"z":-15,"d":-18.8},{"y":46,"z":17,"d":-19.5},{"y":46,"z":-17,"d":-19.5},{"y":-46,"z":17,"d":-19.5},{"y":-46,"z":-17,"d":-19.5},{"y":46,"z":19,"d":-20.2},{"y":46,"z":-19,"d":-20.2},{"y":-46,"z":19,"d":-20.2},{"y":-46,"z":-19,"d":-20.2},{"y":46,"z":21,"d":-21.2},{"y":46,"z":-21,"d":-21.2},{"y":-46,"z":21,"d":-21.2},{"y":-46,"z":-21,"d":-21.2},{"y":46,"z":23,"d":-22.2},{"y":46,"z":-23,"d":-22.2},{"y":-46,"z":23,"d":-22.2},{"y":-46,"z":-23,"d":-22.2},
{"y":49,"z":1,"d":-16.6},{"y":49,"z":-1,"d":-16.6},{"y":-49,"z":1,"d":-16.6},{"y":-49,"z":-1,"d":-16.6},{"y":49,"z":3,"d":-16.8},{"y":49,"z":-3,"d":-16.8},{"y":-49,"z":3,"d":-16.8},{"y":-49,"z":-3,"d":-16.8},{"y":49,"z":5,"d":-17},{"y":49,"z":-5,"d":-17},{"y":-49,"z":5,"d":-17},{"y":-49,"z":-5,"d":-17},{"y":49,"z":7,"d":-17.4},{"y":49,"z":-7,"d":-17.4},{"y":-49,"z":7,"d":-17.4},{"y":-49,"z":-7,"d":-17.4},{"y":49,"z":9,"d":-17.9},{"y":49,"z":-9,"d":-17.9},{"y":-49,"z":9,"d":-17.9},{"y":-49,"z":-9,"d":-17.9},{"y":49,"z":11,"d":-18.4},{"y":49,"z":-11,"d":-18.4},{"y":-49,"z":11,"d":-18.4},{"y":-49,"z":-11,"d":-18.4},{"y":49,"z":13,"d":-18.9},{"y":49,"z":-13,"d":-18.9},{"y":-49,"z":13,"d":-18.9},{"y":-49,"z":-13,"d":-18.9},{"y":49,"z":15,"d":-19.5},{"y":49,"z":-15,"d":-19.5},{"y":-49,"z":15,"d":-19.5},{"y":-49,"z":-15,"d":-19.5},{"y":49,"z":17,"d":-20.1},{"y":49,"z":-17,"d":-20.1},{"y":-49,"z":17,"d":-20.1},{"y":-49,"z":-17,"d":-20.1},{"y":49,"z":19,"d":-20.9},{"y":49,"z":-19,"d":-20.9},{"y":-49,"z":19,"d":-20.9},{"y":-49,"z":-19,"d":-20.9},{"y":49,"z":21,"d":-21.9},{"y":49,"z":-21,"d":-21.9},{"y":-49,"z":21,"d":-21.9},{"y":-49,"z":-21,"d":-21.9},
{"y":52,"z":1,"d":-19.3},{"y":52,"z":-1,"d":-19.3},{"y":-52,"z":1,"d":-19.3},{"y":-52,"z":-1,"d":-19.3},{"y":52,"z":3,"d":-19.4},{"y":52,"z":-3,"d":-19.4},{"y":-52,"z":3,"d":-19.4},{"y":-52,"z":-3,"d":-19.4},{"y":52,"z":5,"d":-19.6},{"y":52,"z":-5,"d":-19.6},{"y":-52,"z":5,"d":-19.6},{"y":-52,"z":-5,"d":-19.6},{"y":52,"z":7,"d":-19.8},{"y":52,"z":-7,"d":-19.8},{"y":-52,"z":7,"d":-19.8},{"y":-52,"z":-7,"d":-19.8},{"y":52,"z":9,"d":-20},{"y":52,"z":-9,"d":-20},{"y":-52,"z":9,"d":-20},{"y":-52,"z":-9,"d":-20},{"y":52,"z":11,"d":-20.4},{"y":52,"z":-11,"d":-20.4},{"y":-52,"z":11,"d":-20.4},{"y":-52,"z":-11,"d":-20.4},{"y":52,"z":13,"d":-20.9},{"y":52,"z":-13,"d":-20.9},{"y":-52,"z":13,"d":-20.9},{"y":-52,"z":-13,"d":-20.9},{"y":52,"z":15,"d":-21.4},{"y":52,"z":-15,"d":-21.4},{"y":-52,"z":15,"d":-21.4},{"y":-52,"z":-15,"d":-21.4},{"y":52,"z":17,"d":-22},{"y":52,"z":-17,"d":-22},{"y":-52,"z":17,"d":-22},{"y":-52,"z":-17,"d":-22},
{"y":55,"z":1,"d":-21.8},{"y":55,"z":-1,"d":-21.8},{"y":-55,"z":1,"d":-21.8},{"y":-55,"z":-1,"d":-21.8},{"y":55,"z":3,"d":-21.8},{"y":55,"z":-3,"d":-21.8},{"y":-55,"z":3,"d":-21.8},{"y":-55,"z":-3,"d":-21.8},{"y":55,"z":5,"d":-22},{"y":55,"z":-5,"d":-22},{"y":-55,"z":5,"d":-22},{"y":-55,"z":-5,"d":-22},{"y":55,"z":7,"d":-22.2},{"y":55,"z":-7,"d":-22.2},{"y":-55,"z":7,"d":-22.2},{"y":-55,"z":-7,"d":-22.2}]
},
"vconcat":[
{"width":897,"height":450,"view":{"fill":"#6c0e0a","stroke":"#555"},
"layer":[
{"data":{"name":"ct"},"mark":{"type":"rect","width":15.2,"height":15.2},
"encoding":{"x":{"field":"y","type":"quantitative","scale":{"domain":[-60,60],"nice":false,"zero":false},"axis":null},
"y":{"field":"z","type":"quantitative","scale":{"domain":[-30,30],"nice":false,"zero":false},"axis":{"values":[-30,-20,-10,0,10,20,30],"title":"z\u00a0\u00a0(AU)","labelPadding":6,"titlePadding":18}},
"color":{"field":"d","type":"quantitative","scale":{"interpolate":"rgb","domain":[-22.84,-22.24,-21.4,-20.44,-19.24,-18.28,-17.08,-16,-15.04,-13.84,-13,-12.04,-10.84],"range":["#6c0e0a","#720f14","#7c2446","#842e7c","#8a42d0","#7a5cec","#4a90dc","#3aaac6","#2bcfa2","#4ae088","#70e878","#b4ec48","#fdf32c"]},
"legend":{"orient":"none","legendX":897,"legendY":0,"title":null,"type":"gradient","gradientLength":450,"gradientThickness":34,"values":[-21,-19,-17,-15,-13,-11],"labelExpr":"{'-24':'10⁻²⁴','-22':'10⁻²²','-21':'10⁻²¹','-20':'10⁻²⁰','-19':'10⁻¹⁹','-18':'10⁻¹⁸','-17':'10⁻¹⁷','-16':'10⁻¹⁶','-15':'10⁻¹⁵','-14':'10⁻¹⁴','-13':'10⁻¹³','-12':'10⁻¹²','-11':'10⁻¹¹'}[datum.value]"}}}},
{"data":{"name":"mt"},"mark":{"type":"rect","width":15.2,"height":8},"encoding":{"x":{"field":"y","type":"quantitative","axis":null},"y":{"field":"z","type":"quantitative"},"color":{"field":"d","type":"quantitative"}}},
{"data":{"name":"st"},"mark":{"type":"rect","width":6,"height":15.2},"encoding":{"x":{"field":"y","type":"quantitative","axis":null},"y":{"field":"z","type":"quantitative"},"color":{"field":"d","type":"quantitative"}}},
{"data":{"name":"gt"},"mark":{"type":"rule","strokeWidth":1.5},"encoding":{"x":{"field":"a","type":"quantitative","axis":null},"x2":{"field":"b"},"y":{"field":"c","type":"quantitative"},"y2":{"field":"e"},"stroke":{"field":"k","type":"nominal","scale":{"domain":["b","g"],"range":["#0a0a0a","#4a4a4a"]},"legend":null}}},
{"data":{"name":"xt"},"mark":{"type":"tick","orient":"vertical","clip":true,"thickness":1,"color":"#222"},"encoding":{"x":{"field":"v","type":"quantitative","axis":null},"y":{"datum":-30,"type":"quantitative"},"size":{"field":"m","type":"quantitative","scale":{"domain":[0,1],"range":[7,14]},"legend":null}}},
{"data":{"name":"xt"},"mark":{"type":"tick","orient":"vertical","clip":true,"thickness":1,"color":"#222"},"encoding":{"x":{"field":"v","type":"quantitative","axis":null},"y":{"datum":30,"type":"quantitative"},"size":{"field":"m","type":"quantitative","scale":{"domain":[0,1],"range":[7,14]},"legend":null}}},
{"data":{"name":"zt"},"mark":{"type":"tick","orient":"horizontal","clip":true,"thickness":1,"color":"#222"},"encoding":{"y":{"field":"v","type":"quantitative"},"x":{"datum":-60,"type":"quantitative","axis":null},"size":{"field":"m","type":"quantitative","scale":{"domain":[0,1],"range":[7,14]},"legend":null}}},
{"data":{"name":"zt"},"mark":{"type":"tick","orient":"horizontal","clip":true,"thickness":1,"color":"#222"},"encoding":{"y":{"field":"v","type":"quantitative"},"x":{"datum":60,"type":"quantitative","axis":null},"size":{"field":"m","type":"quantitative","scale":{"domain":[0,1],"range":[7,14]},"legend":null}}},
{"data":{"values":[{"z":29.2},{"z":18.93},{"z":8.93},{"z":-0.93},{"z":-10.93},{"z":-20.93}]},"mark":{"type":"rule","color":"#222"},"encoding":{"x":{"datum":64,"type":"quantitative","axis":null},"x2":{"datum":64.55},"y":{"field":"z","type":"quantitative"}}},
{"data":{"values":[{"a":-74.78,"b":38.1,"z":34.43}]},"mark":{"type":"rule","color":"#f0f0f0","strokeWidth":3},"encoding":{"x":{"field":"a","type":"quantitative","axis":null},"x2":{"field":"b"},"y":{"field":"z","type":"quantitative"}}},
{"data":{"values":[{"a":41.8,"b":51.9,"c":-24.1,"e":-24.9}]},"mark":{"type":"rect","fillOpacity":0,"stroke":"#f5e6e6","strokeWidth":1.6},"encoding":{"x":{"field":"a","type":"quantitative","axis":null},"x2":{"field":"b"},"y":{"field":"c","type":"quantitative"},"y2":{"field":"e"}}},
{"data":{"values":[{"x":-56.2,"z":-26.1,"t":"t = 1.9 day"}]},"mark":{"type":"text","fontSize":25,"color":"#f2e0dc","baseline":"middle","align":"left"},"encoding":{"x":{"field":"x","type":"quantitative","axis":null},"y":{"field":"z","type":"quantitative"},"text":{"field":"t"}}},
{"data":{"values":[{"x":46.9,"z":-27.5,"t":"10 au"}]},"mark":{"type":"text","fontSize":25,"color":"#f2e0dc","baseline":"middle","align":"center"},"encoding":{"x":{"field":"x","type":"quantitative","axis":null},"y":{"field":"z","type":"quantitative"},"text":{"field":"t"}}},
{"data":{"values":[{"x":0,"z":32.1,"t":"Density"}]},"mark":{"type":"text","fontSize":27,"baseline":"middle","align":"center","color":"#222"},"encoding":{"x":{"field":"x","type":"quantitative","axis":null},"y":{"field":"z","type":"quantitative"},"text":{"field":"t"}}},
{"data":{"values":[{"x":75.4,"z":-10.13,"t":"Dens"}]},"mark":{"type":"text","fontSize":27,"angle":270,"align":"center","baseline":"middle","color":"#222"},"encoding":{"x":{"field":"x","type":"quantitative","axis":null},"y":{"field":"z","type":"quantitative"},"text":{"field":"t"}}},
{"data":{"values":[{"x":74.85,"z":4.93,"t":"code mass"},{"x":78.3,"z":4.93,"t":"code length³"}]},"mark":{"type":"text","fontSize":20,"angle":270,"align":"center","baseline":"middle","color":"#222"},"encoding":{"x":{"field":"x","type":"quantitative","axis":null},"y":{"field":"z","type":"quantitative"},"text":{"field":"t"}}},
{"data":{"values":[{"x":76.3,"c":12.4,"e":-2.53}]},"mark":{"type":"rule","color":"#222","strokeWidth":1},"encoding":{"x":{"field":"x","type":"quantitative","axis":null},"y":{"field":"c","type":"quantitative"},"y2":{"field":"e"}}},
{"data":{"values":[{"x":76.3,"z":13.5,"t":")"},{"x":76.3,"z":-3.6,"t":"("}]},"mark":{"type":"text","fontSize":48,"angle":270,"align":"center","baseline":"middle","color":"#222"},"encoding":{"x":{"field":"x","type":"quantitative","axis":null},"y":{"field":"z","type":"quantitative"},"text":{"field":"t"}}}
]},
{"width":897,"height":448,"view":{"fill":"#7c2446","stroke":"#555"},
"layer":[
{"data":{"name":"cb"},"mark":{"type":"rect","width":15.2,"height":15.2},
"encoding":{"x":{"field":"y","type":"quantitative","scale":{"domain":[-60,60],"nice":false,"zero":false},"axis":{"values":[-60,-40,-20,0,20,40,60],"title":"y\u00a0\u00a0(AU)","labelPadding":3,"titlePadding":13}},
"y":{"field":"z","type":"quantitative","scale":{"domain":[-30,30],"nice":false,"zero":false},"axis":{"values":[-30,-20,-10,0,10,20,30],"title":"z\u00a0\u00a0(AU)","labelPadding":6,"titlePadding":18}},
"color":{"field":"d","type":"quantitative","scale":{"interpolate":"rgb","domain":[-24,-23.35,-22.43,-21.39,-20.08,-19.04,-17.73,-16.56,-15.51,-14.2,-13.29,-12.25,-10.94],"range":["#6c0e0a","#720f14","#7c2446","#842e7c","#8a42d0","#7a5cec","#4a90dc","#3aaac6","#2bcfa2","#4ae088","#70e878","#b4ec48","#fdf32c"]},
"legend":{"orient":"none","legendX":897,"legendY":0,"title":null,"type":"gradient","gradientLength":448,"gradientThickness":34,"values":[-24,-22,-20,-18,-16,-14,-12],"labelExpr":"{'-24':'10⁻²⁴','-22':'10⁻²²','-21':'10⁻²¹','-20':'10⁻²⁰','-19':'10⁻¹⁹','-18':'10⁻¹⁸','-17':'10⁻¹⁷','-16':'10⁻¹⁶','-15':'10⁻¹⁵','-14':'10⁻¹⁴','-13':'10⁻¹³','-12':'10⁻¹²','-11':'10⁻¹¹'}[datum.value]"}}}},
{"data":{"name":"co"},"mark":{"type":"rect","width":22.7,"height":15.2},"encoding":{"x":{"field":"y","type":"quantitative"},"y":{"field":"z","type":"quantitative"},"color":{"field":"d","type":"quantitative"}}},
{"data":{"name":"mb"},"mark":{"type":"rect","width":15.2,"height":8},"encoding":{"x":{"field":"y","type":"quantitative"},"y":{"field":"z","type":"quantitative"},"color":{"field":"d","type":"quantitative"}}},
{"data":{"name":"gb"},"mark":{"type":"rule","strokeWidth":1.5},"encoding":{"x":{"field":"a","type":"quantitative"},"x2":{"field":"b"},"y":{"field":"c","type":"quantitative"},"y2":{"field":"e"},"stroke":{"field":"k","type":"nominal","scale":{"domain":["b","g"],"range":["#0a0a0a","#4a4a4a"]},"legend":null}}},
{"data":{"name":"xt"},"mark":{"type":"tick","orient":"vertical","clip":true,"thickness":1,"color":"#222"},"encoding":{"x":{"field":"v","type":"quantitative"},"y":{"datum":-30,"type":"quantitative"},"size":{"field":"m","type":"quantitative","scale":{"domain":[0,1],"range":[7,14]},"legend":null}}},
{"data":{"name":"xt"},"mark":{"type":"tick","orient":"vertical","clip":true,"thickness":1,"color":"#222"},"encoding":{"x":{"field":"v","type":"quantitative"},"y":{"datum":30,"type":"quantitative"},"size":{"field":"m","type":"quantitative","scale":{"domain":[0,1],"range":[7,14]},"legend":null}}},
{"data":{"name":"zt"},"mark":{"type":"tick","orient":"horizontal","clip":true,"thickness":1,"color":"#222"},"encoding":{"y":{"field":"v","type":"quantitative"},"x":{"datum":-60,"type":"quantitative"},"size":{"field":"m","type":"quantitative","scale":{"domain":[0,1],"range":[7,14]},"legend":null}}},
{"data":{"name":"zt"},"mark":{"type":"tick","orient":"horizontal","clip":true,"thickness":1,"color":"#222"},"encoding":{"y":{"field":"v","type":"quantitative"},"x":{"datum":60,"type":"quantitative"},"size":{"field":"m","type":"quantitative","scale":{"domain":[0,1],"range":[7,14]},"legend":null}}},
{"data":{"values":[{"z":25.18},{"z":15.94},{"z":6.7},{"z":-2.54},{"z":-11.65},{"z":-20.9}]},"mark":{"type":"rule","color":"#222"},"encoding":{"x":{"datum":64,"type":"quantitative"},"x2":{"datum":64.55},"y":{"field":"z","type":"quantitative"}}},
{"data":{"values":[{"a":-65.75,"b":-60.1,"z":33.9}]},"mark":{"type":"rule","color":"white","strokeWidth":14},"encoding":{"x":{"field":"a","type":"quantitative"},"x2":{"field":"b"},"y":{"field":"z","type":"quantitative"}}},
{"data":{"values":[{"a":41.8,"b":51.9,"c":-24.4,"e":-25.2}]},"mark":{"type":"rect","fillOpacity":0,"stroke":"#f5e6e6","strokeWidth":1.6},"encoding":{"x":{"field":"a","type":"quantitative"},"x2":{"field":"b"},"y":{"field":"c","type":"quantitative"},"y2":{"field":"e"}}},
{"data":{"values":[{"x":-56.2,"z":-26.4,"t":"t = 0.0 s"}]},"mark":{"type":"text","fontSize":25,"color":"#f2e0dc","baseline":"middle","align":"left"},"encoding":{"x":{"field":"x","type":"quantitative"},"y":{"field":"z","type":"quantitative"},"text":{"field":"t"}}},
{"data":{"values":[{"x":46.9,"z":-27.6,"t":"10 au"}]},"mark":{"type":"text","fontSize":25,"color":"#f2e0dc","baseline":"middle","align":"center"},"encoding":{"x":{"field":"x","type":"quantitative"},"y":{"field":"z","type":"quantitative"},"text":{"field":"t"}}},
{"data":{"values":[{"x":0,"z":32.1,"t":"Density"}]},"mark":{"type":"text","fontSize":27,"baseline":"middle","align":"center","color":"#222"},"encoding":{"x":{"field":"x","type":"quantitative"},"y":{"field":"z","type":"quantitative"},"text":{"field":"t"}}},
{"data":{"values":[{"x":75.4,"z":-10.16,"t":"Dens"}]},"mark":{"type":"text","fontSize":27,"angle":270,"align":"center","baseline":"middle","color":"#222"},"encoding":{"x":{"field":"x","type":"quantitative"},"y":{"field":"z","type":"quantitative"},"text":{"field":"t"}}},
{"data":{"values":[{"x":74.85,"z":4.83,"t":"code mass"},{"x":78.3,"z":4.83,"t":"code length³"}]},"mark":{"type":"text","fontSize":20,"angle":270,"align":"center","baseline":"middle","color":"#222"},"encoding":{"x":{"field":"x","type":"quantitative"},"y":{"field":"z","type":"quantitative"},"text":{"field":"t"}}},
{"data":{"values":[{"x":76.3,"c":12.33,"e":-2.9}]},"mark":{"type":"rule","color":"#222","strokeWidth":1},"encoding":{"x":{"field":"x","type":"quantitative"},"y":{"field":"c","type":"quantitative"},"y2":{"field":"e"}}},
{"data":{"values":[{"x":76.3,"z":13.5,"t":")"},{"x":76.3,"z":-3.5,"t":"("}]},"mark":{"type":"text","fontSize":48,"angle":270,"align":"center","baseline":"middle","color":"#222"},"encoding":{"x":{"field":"x","type":"quantitative"},"y":{"field":"z","type":"quantitative"},"text":{"field":"t"}}},
{"data":{"values":[{"x":78.6,"z":-40.7,"t":"15"}]},"mark":{"type":"text","font":"Noto Sans","fontSize":38,"align":"center","baseline":"alphabetic","color":"#111"},"encoding":{"x":{"field":"x","type":"quantitative"},"y":{"field":"z","type":"quantitative"},"text":{"field":"t"}}}
]}
],
"resolve":{"scale":{"color":"independent","size":"independent"},"legend":{"color":"independent"}}}
